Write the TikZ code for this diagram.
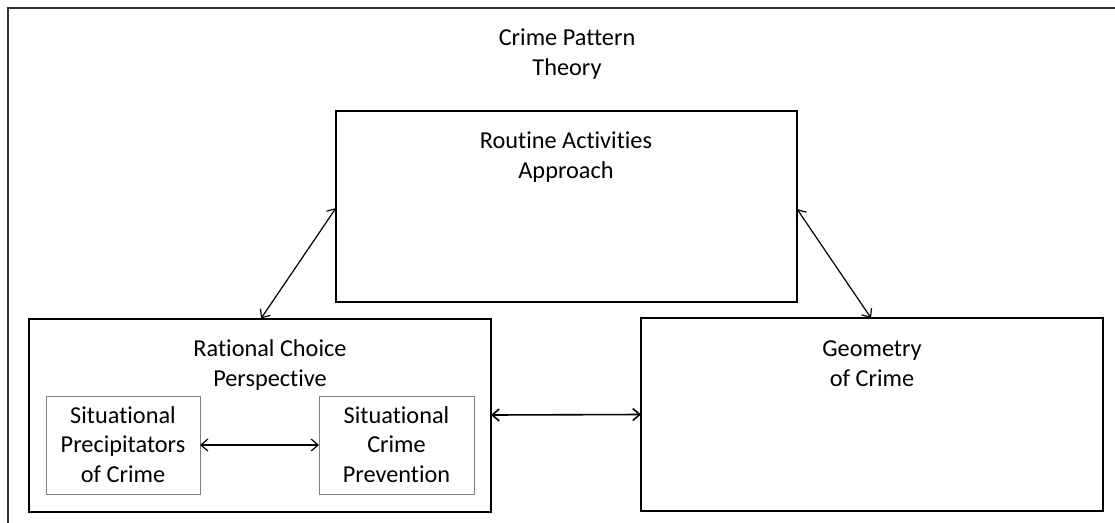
\documentclass[tikz,border=0pt]{standalone}
\usepackage{fontspec}
\setmainfont{Carlito}[Ligatures=CommonOff]
\usetikzlibrary{arrows.meta}
\begin{document}
\begin{tikzpicture}[x=1pt,y=-1pt,
  mainbox/.style={draw=black, line width=2pt, inner sep=0pt, outer sep=0pt},
  subbox/.style={draw=black!50, line width=0.9pt, inner sep=0pt, outer sep=0pt},
  lbl/.style={font=\fontsize{24.3}{29.5}\selectfont, align=center, anchor=base, inner sep=0pt},
  link/.style={line width=1.2pt, {Straight Barb[length=7pt,width=12pt]}-{Straight Barb[length=7pt,width=12pt]}}]
\useasboundingbox (0,0) rectangle (1115,522);
\draw[line width=2.8pt, black!80] (8,540) -- (8,8) -- (1130,8);
\node[lbl] (cpt) at (567,75) {Crime Pattern\\Theory};
\node[mainbox, minimum width=461pt, minimum height=191pt] (routine) at (566.5,206.5) {};
\node[mainbox, minimum width=462pt, minimum height=193pt] (rational) at (260,415) {};
\node[mainbox, minimum width=462pt, minimum height=193pt] (geometry) at (872,414.5) {};
\node[subbox, minimum width=154pt, minimum height=98pt] (precip) at (123,445) {};
\node[subbox, minimum width=155pt, minimum height=98pt] (prevent) at (396.5,445) {};
\node[lbl] (troutine) at (566,178) {Routine Activities\\Approach};
\node[lbl] (trational) at (270,386) {Rational Choice\\Perspective};
\node[lbl] (tgeometry) at (872,386) {Geometry\\of Crime};
\node[lbl] (tprecip) at (123,482) {Situational\\Precipitators\\of Crime};
\node[lbl] (tprevent) at (396.5,482) {Situational\\Crime\\Prevention};
\draw[link] ([yshift=-97pt]routine.north west) -- ([xshift=232pt]rational.north west);
\draw[link] ([yshift=-98pt]routine.north east) -- ([xshift=230pt]geometry.north west);
\draw[link, line width=1.6pt] (rational.east) -- (geometry.west);
\draw[link] (precip.east) -- (prevent.west);
\end{tikzpicture}
\end{document}
